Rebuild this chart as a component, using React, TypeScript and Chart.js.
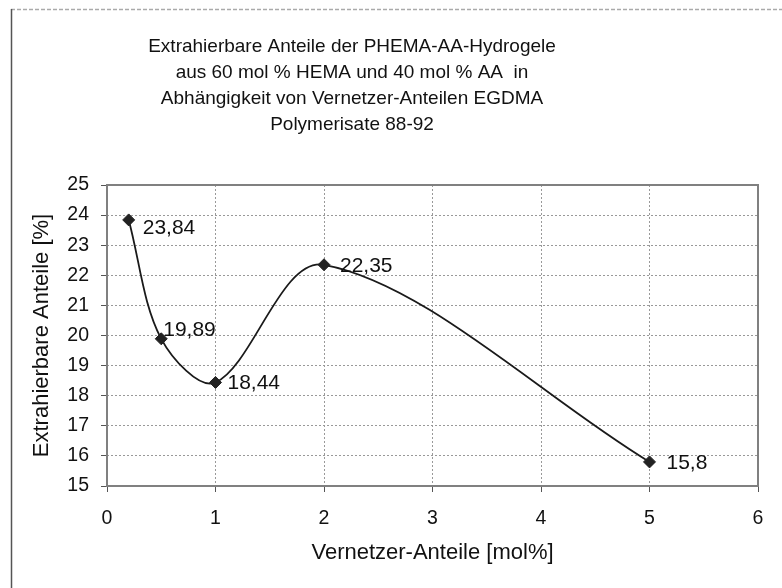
import React, { useEffect, useRef } from 'react';
import { Chart, registerables } from 'chart.js';

Chart.register(...registerables);

const xValues = [0.2, 0.5, 1, 2, 5];
const yValues = [23.84, 19.89, 18.44, 22.35, 15.8];
const titleLines = [
  'Extrahierbare Anteile der PHEMA-AA-Hydrogele',
  'aus 60 mol % HEMA und 40 mol % AA  in',
  'Abhängigkeit von Vernetzer-Anteilen EGDMA',
  'Polymerisate 88-92',
];
const xAxisTitle = 'Vernetzer-Anteile [mol%]';
const yAxisTitle = 'Extrahierbare Anteile [%]';
const xMin = 0, xMax = 6, xStep = 1;
const yMin = 15, yMax = 25, yStep = 1;

const FONT = '"Liberation Sans", Arial, sans-serif';
const TITLE_FS = 19;
const TICK_FS = 19.5;
const AXIS_TITLE_FS = 22;
const LABEL_FS = 21;
const TEXT = '#111111';
const labelOffsets = [[14, 8], [2, -8.5], [12, 1], [16, 1], [17, 1.5]];

const fmt = (v: number) => String(v).replace('.', ',');

const framePlugin = {
  id: 'frame',
  beforeDraw(chart: any) {
    const { ctx, width, height } = chart;
    ctx.save();
    ctx.fillStyle = '#ffffff';
    ctx.fillRect(0, 0, width, height);
    ctx.strokeStyle = '#aaaaaa';
    ctx.lineWidth = 1.5;
    ctx.setLineDash([4, 2]);
    ctx.beginPath();
    ctx.moveTo(11, 9.5);
    ctx.lineTo(width, 9.5);
    ctx.stroke();
    ctx.setLineDash([]);
    ctx.strokeStyle = '#555555';
    ctx.beginPath();
    ctx.moveTo(11.5, 9);
    ctx.lineTo(11.5, height);
    ctx.stroke();
    ctx.restore();
  },
};

const boxPlugin = {
  id: 'box',
  beforeDatasetsDraw(chart: any) {
    const { ctx, chartArea } = chart;
    ctx.save();
    ctx.strokeStyle = '#808080';
    ctx.lineWidth = 2;
    ctx.strokeRect(chartArea.left, chartArea.top, chartArea.right - chartArea.left, chartArea.bottom - chartArea.top);
    ctx.restore();
  },
};

const titlePlugin = {
  id: 'customTitle',
  afterDraw(chart: any) {
    const { ctx } = chart;
    ctx.save();
    ctx.font = `${TITLE_FS}px ${FONT}`;
    ctx.fillStyle = TEXT;
    ctx.textAlign = 'center';
    ctx.textBaseline = 'middle';
    titleLines.forEach((line, i) => ctx.fillText(line, 352, 47 + i * 26));
    ctx.restore();
  },
};

const labelPlugin = {
  id: 'valueLabels',
  afterDatasetsDraw(chart: any) {
    const { ctx } = chart;
    const meta = chart.getDatasetMeta(0);
    ctx.save();
    ctx.font = `${LABEL_FS}px ${FONT}`;
    ctx.fillStyle = TEXT;
    ctx.textAlign = 'left';
    ctx.textBaseline = 'middle';
    meta.data.forEach((pt: any, i: number) => {
      const [dx, dy] = labelOffsets[i] || [10, 0];
      ctx.fillText(fmt(yValues[i]), pt.x + dx, pt.y + dy);
    });
    ctx.restore();
  },
};

export default function App() {
  const ref = useRef<HTMLCanvasElement>(null);
  useEffect(() => {
    if (!ref.current) return;
    const chart = new Chart(ref.current, {
      type: 'scatter',
      data: {
        datasets: [
          {
            data: xValues.map((x, i) => ({ x, y: yValues[i] })),
            showLine: true,
            tension: 0.33,
            borderColor: '#1a1a1a',
            borderWidth: 1.8,
            pointStyle: 'rectRot',
            pointRadius: 6,
            pointBackgroundColor: '#222222',
            pointBorderColor: '#222222',
            pointBorderWidth: 1,
          },
        ],
      },
      options: {
        responsive: false,
        animation: false,
        events: [],
        layout: { padding: { top: 185, right: 24, left: 0, bottom: 0 } },
        plugins: { legend: { display: false }, tooltip: { enabled: false }, title: { display: false } },
        scales: {
          x: {
            type: 'linear',
            min: xMin,
            max: xMax,
            afterFit: (s: any) => { s.height = 102; },
            ticks: { stepSize: xStep, color: TEXT, font: { family: FONT, size: TICK_FS }, padding: 15 },
            grid: { color: '#999999', lineWidth: 1, tickColor: '#555555', tickLength: 6 },
            border: { display: false, dash: [2, 2] },
            title: { display: true, text: xAxisTitle, color: TEXT, font: { family: FONT, size: AXIS_TITLE_FS }, padding: { top: 0, bottom: 22 } },
          },
          y: {
            type: 'linear',
            min: yMin,
            max: yMax,
            afterFit: (s: any) => { s.width = 107; },
            ticks: { stepSize: yStep, color: TEXT, font: { family: FONT, size: TICK_FS }, padding: 12 },
            grid: { color: '#999999', lineWidth: 1, tickColor: '#555555', tickLength: 6 },
            border: { display: false, dash: [2, 2] },
            title: { display: true, text: yAxisTitle, color: TEXT, font: { family: FONT, size: AXIS_TITLE_FS }, padding: { top: 29, bottom: 0 } },
          },
        },
      },
      plugins: [framePlugin, boxPlugin, titlePlugin, labelPlugin],
    } as any);
    return () => chart.destroy();
  }, []);
  return (
    <div style={{ position: 'absolute', left: 0, top: 0, width: 782, height: 588 }}>
      <canvas ref={ref} width={782} height={588} style={{ display: 'block' }} />
    </div>
  );
}
